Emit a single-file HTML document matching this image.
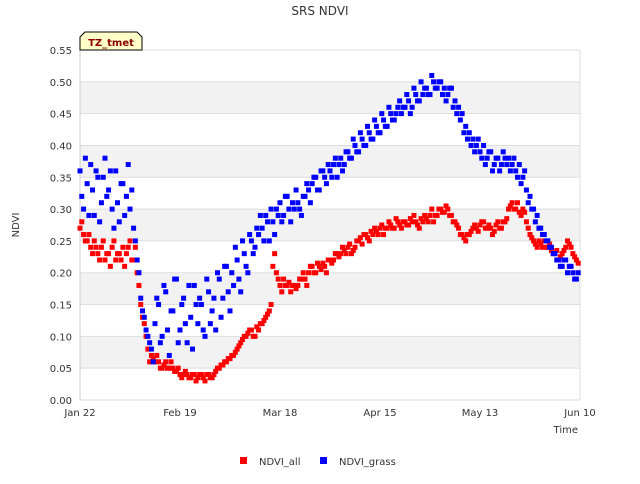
<!DOCTYPE html>
<html><head><meta charset="utf-8"><style>
body{margin:0;background:#fff;font-family:"DejaVu Sans","Liberation Sans",sans-serif;}
svg text{font-family:"DejaVu Sans","Liberation Sans",sans-serif;}
</style></head><body>
<svg id="chart" width="640" height="480" xmlns="http://www.w3.org/2000/svg">
<text x="320" y="15" text-anchor="middle" font-size="12" fill="#333">SRS NDVI</text>
<g id="grid"></g>
<g id="yticks"></g>
<g id="xticks"></g>
<g id="marks"></g>
<text x="19" y="225" transform="rotate(-90 19 225)" text-anchor="middle" font-size="10" fill="#333">NDVI</text>
<text x="578" y="433" text-anchor="end" font-size="10" fill="#333">Time</text>
<g>
<path d="M80,50 L80,37 L85,32 L137,32 L142,37 L142,50 Z" fill="#ffffc8" stroke="#000" stroke-width="1"/>
<text x="111" y="46" text-anchor="middle" font-size="10" font-weight="bold" fill="#8b0000">TZ_tmet</text>
</g>
<g>
<g><rect x="240" y="457" width="7" height="7" fill="#f00"/><text x="259" y="465" font-size="10" fill="#333">NDVI_all</text></g>
<g><rect x="320" y="457" width="7" height="7" fill="#00f"/><text x="339" y="465" font-size="10" fill="#333">NDVI_grass</text></g>
</g>
</svg>
<script>
const yTicks=[0,0.05,0.10,0.15,0.20,0.25,0.30,0.35,0.40,0.45,0.50,0.55];
const xTickLabels=["Jan 22","Feb 19","Mar 18","Apr 15","May 13","Jun 10"];
const xTickDays=[0,28,56,84,112,140];
const ndviAll=[.27,.26,.25,.24,.25,.23,.24,.22,.23,.24,
.22,.23,.24,.23,.25,.22,.20,.15,.12,.08,
.07,.06,.06,.05,.06,.05,.05,.045,.04,.04,
.04,.035,.04,.035,.04,.03,.04,.035,.045,.05,
.055,.06,.065,.07,.08,.09,.10,.105,.11,.10,
.11,.12,.13,.14,.21,.20,.18,.19,.18,.17,
.18,.18,.19,.19,.20,.21,.20,.21,.215,.20,
.22,.22,.23,.23,.235,.24,.23,.24,.25,.245,
.26,.25,.26,.265,.27,.26,.27,.275,.27,.28,
.27,.28,.275,.28,.28,.27,.28,.285,.29,.28,
.29,.30,.295,.30,.29,.28,.27,.26,.25,.26,
.27,.27,.275,.28,.27,.27,.265,.28,.27,.28,
.30,.31,.30,.295,.30,.28,.26,.25,.24,.245,
.25,.24,.235,.23,.22,.23,.24,.245,.23,.22];
const ndviAll2=[.28,.25,.26,.23,.24,.22,.25,.23,.21,.25,
.23,.22,.21,.24,.22,.24,.18,.13,.10,.06,
.065,.07,.05,.055,.05,.06,.045,.05,.035,.045,
.035,.04,.03,.04,.035,.04,.035,.04,.05,.055,
.06,.065,.07,.075,.085,.095,.10,.11,.10,.115,
.12,.125,.135,.15,.23,.19,.17,.18,.185,.18,
.175,.19,.20,.18,.21,.20,.215,.205,.21,.22,
.215,.23,.225,.24,.23,.245,.235,.25,.255,.26,
.255,.265,.27,.26,.275,.27,.28,.27,.285,.275,
.28,.275,.285,.29,.275,.285,.29,.28,.30,.29,
.30,.295,.305,.29,.28,.275,.26,.255,.26,.265,
.275,.265,.28,.27,.275,.26,.275,.27,.28,.285,
.305,.30,.31,.29,.295,.27,.255,.245,.25,.24,
.24,.245,.23,.235,.225,.235,.25,.24,.225,.215];
const ndviGrass=[.36,.30,.34,.37,.29,.35,.31,.38,.33,.30,
.36,.28,.34,.32,.30,.27,.22,.16,.13,.10,
.08,.12,.15,.10,.17,.07,.14,.19,.11,.16,
.09,.13,.18,.12,.15,.10,.17,.14,.11,.19,
.16,.21,.14,.18,.22,.17,.23,.20,.25,.24,
.26,.27,.29,.25,.28,.30,.31,.29,.32,.28,
.30,.31,.29,.32,.33,.34,.35,.33,.36,.34,
.36,.37,.35,.38,.37,.39,.38,.40,.39,.41,
.40,.42,.41,.43,.42,.44,.43,.45,.44,.46,
.45,.46,.47,.46,.48,.47,.48,.49,.48,.50,
.49,.50,.49,.48,.49,.47,.46,.45,.43,.42,
.41,.40,.39,.40,.38,.39,.37,.38,.37,.38,
.38,.37,.36,.37,.35,.33,.32,.30,.29,.27,
.26,.25,.24,.23,.22,.21,.22,.21,.20,.19];
const ndviGrass2=[.32,.38,.29,.33,.36,.28,.35,.32,.36,.27,
.31,.34,.29,.37,.33,.25,.20,.14,.11,.09,
.06,.16,.09,.18,.11,.14,.19,.09,.15,.12,
.18,.08,.15,.16,.11,.19,.12,.16,.20,.13,
.21,.17,.20,.24,.19,.25,.21,.26,.23,.27,
.29,.25,.28,.30,.26,.29,.28,.32,.30,.31,
.33,.30,.32,.34,.31,.35,.33,.36,.35,.37,
.35,.38,.37,.36,.39,.38,.41,.39,.42,.40,
.43,.41,.44,.42,.45,.43,.46,.44,.45,.47,
.46,.48,.45,.49,.47,.50,.49,.48,.51,.49,
.50,.48,.47,.49,.46,.45,.44,.42,.41,.40,
.39,.41,.38,.37,.39,.36,.38,.36,.39,.37,
.36,.38,.35,.34,.36,.31,.30,.28,.27,.26,
.25,.24,.23,.22,.21,.22,.20,.21,.19,.20];
const X0=80,X1=580,Y0=400,Y1=50;
const xs=d=>X0+d*(X1-X0)/140;
const ys=v=>Y0-v*(Y0-Y1)/0.55;
const NS="http://www.w3.org/2000/svg";
function mk(t,a,p){const e=document.createElementNS(NS,t);for(const k in a)e.setAttribute(k,a[k]);p.appendChild(e);return e;}
const grid=document.getElementById('grid'),yt=document.getElementById('yticks'),xt=document.getElementById('xticks'),marks=document.getElementById('marks');
for(let i=0;i<yTicks.length-1;i++){if(i%2==1){const r=mk('rect',{x:X0,y:ys(yTicks[i+1]),width:X1-X0,height:ys(yTicks[i])-ys(yTicks[i+1]),fill:'#f2f2f2'},grid);

}}
yTicks.forEach(v=>{const l=mk('line',{x1:X0,x2:X1,y1:ys(v),y2:ys(v),stroke:'#ddd'},grid);


const t=mk('text',{x:72,y:ys(v)+4,'text-anchor':'end','font-size':10,fill:'#333'},yt);t.textContent=v.toFixed(2);

});
mk('line',{x1:X0,x2:X0,y1:Y1,y2:Y0,stroke:'#ccc'},grid);
mk('line',{x1:X1,x2:X1,y1:Y1,y2:Y0,stroke:'#ddd'},grid);
xTickDays.forEach((d,i)=>{const t=mk('text',{x:xs(d),y:416,'text-anchor':'middle','font-size':10,fill:'#333'},xt);t.textContent=xTickLabels[i];

});
function draw(arr,off,color,name){arr.forEach((v,d)=>{const r=mk('rect',{x:xs(d+off)-2.5,y:ys(v)-2.5,width:5,height:5,fill:color},marks);

});}
draw(ndviAll,0,'#f00','point-ndvi-all');
draw(ndviAll2,0.5,'#f00','point-ndvi-all');
draw(ndviGrass,0,'#00f','point-ndvi-grass');
draw(ndviGrass2,0.5,'#00f','point-ndvi-grass');
</script>
</body></html>
